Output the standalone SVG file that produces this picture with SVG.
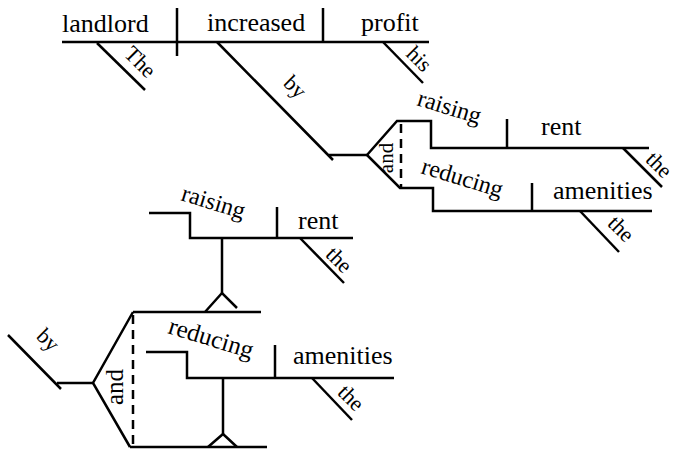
<svg xmlns="http://www.w3.org/2000/svg" width="675" height="450" viewBox="0 0 675 450">
<rect width="675" height="450" fill="#fff"/>
<g id="connectors" fill="none" stroke="#000" stroke-width="2.5">
  <path d="M62,42 H429"/>
  <path d="M177,8 V56"/>
  <path d="M323,8 V42"/>
  <path d="M97,43 L145,90"/>
  <path d="M383,42 L423,83"/>
  <path d="M217,42 L333,160 M328,155 H367"/>
  <path d="M367,155 L397,121 H431 V148 H649"/>
  <path d="M367,155 L400,188 H433 V211 H652"/>
  <path d="M507,119 V148"/>
  <path d="M532,183 V211"/>
  <path stroke-dasharray="9 6" d="M401,124 V187"/>
  <path d="M623,148 L662,187"/>
  <path d="M580,211 L619,252"/>
  <path d="M8,335 L61,389 M57,383 H93"/>
  <path d="M133,312 L93,383 L130,447"/>
  <path d="M133,312 H261"/>
  <path d="M130,447 H267"/>
  <path stroke-dasharray="9 6" d="M133,315 V447"/>
  <path d="M149,213 H190 V238 H353"/>
  <path d="M277,207 V238"/>
  <path d="M300,238 L344,283"/>
  <path d="M222,238 V293"/>
  <path d="M205,312 L222,293 L237,308"/>
  <path d="M146,352 H187 V378 H394"/>
  <path d="M275,345 V378"/>
  <path d="M312,378 L352,420"/>
  <path d="M223,378 V434"/>
  <path d="M208,447 L223,434 L237,447"/>
</g>
<text font-family="Times New Roman, serif" font-size="26" x="62" y="32">landlord</text>
<text font-family="Times New Roman, serif" font-size="26" x="207" y="31">increased</text>
<text font-family="Times New Roman, serif" font-size="26" x="361" y="31">profit</text>
<text font-family="Times New Roman, serif" font-size="22" text-anchor="middle" transform="translate(135,67) rotate(45)">The</text>
<text font-family="Times New Roman, serif" font-size="22" text-anchor="middle" transform="translate(414,64) rotate(45)">his</text>
<text font-family="Times New Roman, serif" font-size="22" text-anchor="middle" transform="translate(290,92) rotate(45)">by</text>
<text font-family="Times New Roman, serif" font-size="21" text-anchor="middle" transform="translate(393,158) rotate(-90)">and</text>
<text font-family="Times New Roman, serif" font-size="24" transform="translate(416,105) rotate(17)">raising</text>
<text font-family="Times New Roman, serif" font-size="26" x="541" y="135">rent</text>
<text font-family="Times New Roman, serif" font-size="22" text-anchor="middle" transform="translate(654,170) rotate(45)">the</text>
<text font-family="Times New Roman, serif" font-size="24" transform="translate(420,173) rotate(17)">reducing</text>
<text font-family="Times New Roman, serif" font-size="26" x="553" y="199">amenities</text>
<text font-family="Times New Roman, serif" font-size="22" text-anchor="middle" transform="translate(616,234) rotate(45)">the</text>
<text font-family="Times New Roman, serif" font-size="22" text-anchor="middle" transform="translate(43,345) rotate(45)">by</text>
<text font-family="Times New Roman, serif" font-size="25" text-anchor="middle" transform="translate(123,387) rotate(-90)">and</text>
<text font-family="Times New Roman, serif" font-size="24" transform="translate(180,200) rotate(17)">raising</text>
<text font-family="Times New Roman, serif" font-size="26" x="298" y="229">rent</text>
<text font-family="Times New Roman, serif" font-size="22" text-anchor="middle" transform="translate(334,265) rotate(45)">the</text>
<text font-family="Times New Roman, serif" font-size="25" transform="translate(167,333) rotate(17)">reducing</text>
<text font-family="Times New Roman, serif" font-size="26" x="293" y="364">amenities</text>
<text font-family="Times New Roman, serif" font-size="22" text-anchor="middle" transform="translate(346,403) rotate(45)">the</text>
</svg>
